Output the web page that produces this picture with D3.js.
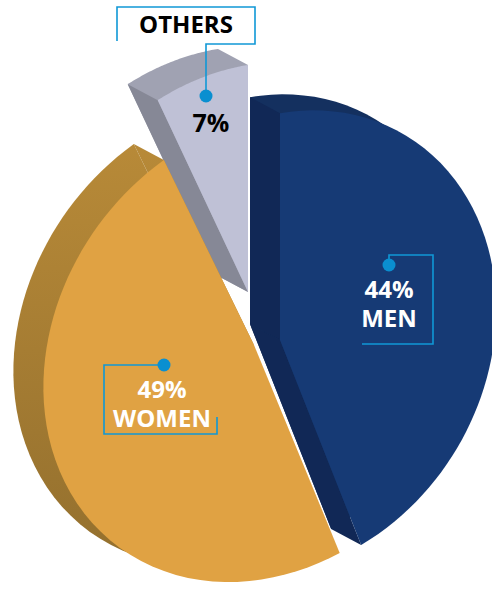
<!DOCTYPE html>
<html>
<head>
<meta charset="utf-8">
<style>
  html, body { margin: 0; padding: 0; background: #fff; }
  svg { display: block; }
  text { font-family: "Open Sans", sans-serif; font-weight: 700; text-anchor: middle; }
</style>
</head>
<body>
<svg id="chart" width="492" height="589"></svg>
<script src="https://cdnjs.cloudflare.com/ajax/libs/d3/7.8.5/d3.min.js"></script>
<script>
// Audience split
const categories = ["MEN", "WOMEN", "OTHERS"];
const shares = [44, 49, 7];

const depth = [-30, -16];

// Per-wedge geometry and colours: apex, tilted oval outline, visible walls, shading.
const wedgeStyle = {
  MEN: {
    apex: [280, 340], oval: { c: [282, 343.4], a: 242, b: 204, u: [0.5, -0.866], v: [0.866, 0.5] }, turn: 0,
    walls: [["start", "side"], ["end", "side"]],
    front: "#163a75", top: "#14305f", side: "#112856"
  },
  WOMEN: {
    apex: [254, 345], oval: { c: [267, 347], a: 249, b: 208, u: [0.6, -0.8], v: [0.8, 0.6] }, turn: -0.8,
    walls: [["end", "side"]],
    front: "#e0a243", top: "url(#goldSide)", side: "url(#goldSide)"
  },
  OTHERS: {
    apex: [248, 292], oval: { c: [250, 290], a: 240, b: 205, u: [0.6, -0.8], v: [0.8, 0.6] }, turn: 0,
    walls: [["end", "top"], ["start", "side"]],
    front: "#bfc1d6", top: "#a0a2b2", side: "#868896"
  }
};

// Callout placement: dot, leader polyline, and text blocks (each block is one text element).
const callouts = {
  MEN: {
    dot: [389, 265],
    leader: [[389, 265], [389, 255], [433, 255], [433, 344], [362, 344]],
    blocks: [{ x: 389, y: 298, size: 24, fill: "#fff", lines: [d => d + "%", () => "MEN"] }]
  },
  WOMEN: {
    dot: [164, 365],
    leader: [[164, 365], [104, 365], [104, 434], [217, 434], [217, 417]],
    blocks: [{ x: 162, y: 398, size: 24, fill: "#fff", lines: [d => d + "%", () => "WOMEN"] }]
  },
  OTHERS: {
    dot: [206, 96],
    leader: [[117, 41], [117, 7], [255, 7], [255, 44], [206, 44], [206, 96]],
    blocks: [{ x: 186, y: 33, size: 24, fill: "#000", lines: [() => "OTHERS"] },
             { x: 211, y: 132, size: 25, fill: "#000", lines: [d => d + "%"] }]
  }
};
const lineGap = 29;

const svg = d3.select("#chart");

// Side shading of the gold slab darkens toward the bottom of the chart.
const gold = svg.append("defs").append("linearGradient")
  .attr("id", "goldSide").attr("gradientUnits", "userSpaceOnUse")
  .attr("x1", 0).attr("y1", 140).attr("x2", 0).attr("y2", 560);
gold.append("stop").attr("offset", "0%").attr("stop-color", "#b88a38");
gold.append("stop").attr("offset", "100%").attr("stop-color", "#94702e");

const pie = d3.pie().sort(null).startAngle(0).endAngle(2 * Math.PI);
const arcs = pie(shares).map((d, i) => ({ ...d, name: categories[i] }));

// Where a ray leaving the apex at pie angle t meets the wedge's oval.
function rim(style, t) {
  const a = t + style.turn * Math.PI / 180;
  const dir = [Math.sin(a), -Math.cos(a)];
  const { c, a: ra, b: rb, u, v } = style.oval;
  const o = [style.apex[0] - c[0], style.apex[1] - c[1]];
  const proj = (p, ax) => p[0] * ax[0] + p[1] * ax[1];
  const ou = proj(o, u) / ra, ov = proj(o, v) / rb;
  const du = proj(dir, u) / ra, dv = proj(dir, v) / rb;
  const A = du * du + dv * dv;
  const B = 2 * (ou * du + ov * dv);
  const C = ou * ou + ov * ov - 1;
  const s = (-B + Math.sqrt(B * B - 4 * A * C)) / (2 * A);
  return [style.apex[0] + dir[0] * s, style.apex[1] + dir[1] * s];
}

const line = d3.line();
const shift = (p) => [p[0] + depth[0], p[1] + depth[1]];

function wedgePoints(d, style) {
  const steps = d3.range(0, 61).map(k => d.startAngle + (d.endAngle - d.startAngle) * k / 60);
  return [style.apex, ...steps.map(t => rim(style, t))];
}

// Draw back to front so the nearer slabs cover the hidden edges.
["MEN", "OTHERS", "WOMEN"].forEach(name => {
  const d = arcs.find(x => x.name === name);
  const style = wedgeStyle[name];
  const g = svg.append("g").attr("class", "wedge " + name.toLowerCase());
  const pts = wedgePoints(d, style);
  const edges = { start: pts[1], end: pts[pts.length - 1] };

  g.append("path").attr("d", line(pts.map(shift)) + "Z").attr("fill", style.top);
  style.walls.forEach(([edge, shade]) => {
    g.append("path")
      .attr("d", line([style.apex, edges[edge], shift(edges[edge]), shift(style.apex)]) + "Z")
      .attr("fill", style[shade]);
  });
  g.append("path").attr("d", line(pts) + "Z").attr("fill", style.front);
});

// Callouts sit above every wedge.
arcs.forEach(d => {
  const c = callouts[d.name];
  const g = svg.append("g").attr("class", "callout");
  g.append("path").attr("d", line(c.leader))
    .attr("fill", "none").attr("stroke", "#1098d6").attr("stroke-width", 1.6);
  g.append("circle").attr("cx", c.dot[0]).attr("cy", c.dot[1]).attr("r", 6.5).attr("fill", "#0a8fd0");
  c.blocks.forEach(b => {
    const t = g.append("text").attr("font-size", b.size).attr("fill", b.fill);
    b.lines.forEach((fn, i) => {
      t.append("tspan").attr("x", b.x).attr("y", b.y + i * lineGap).text(fn(d.value));
    });
  });
});
</script>
</body>
</html>
